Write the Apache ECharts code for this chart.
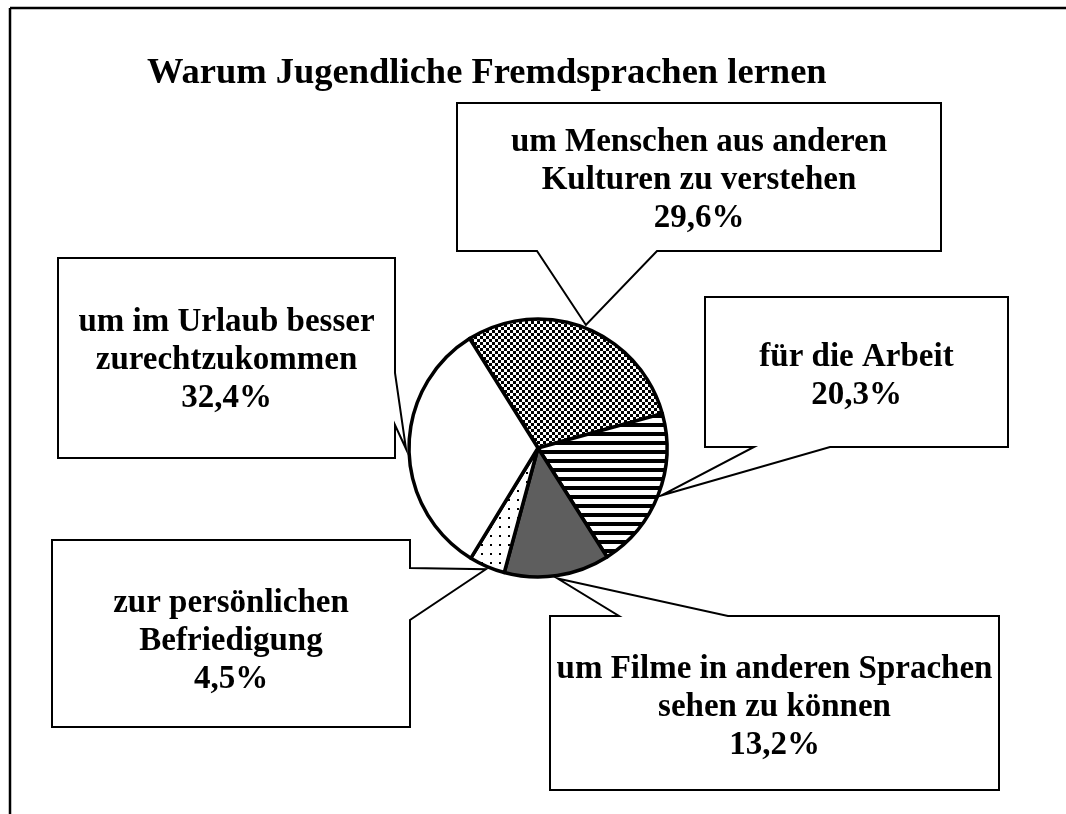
<!DOCTYPE html>
<html><head><meta charset="utf-8">
<script src="https://cdn.jsdelivr.net/npm/echarts@6/dist/echarts.min.js"></script>
<style>html,body{margin:0;padding:0;background:#fff}#c{width:1066px;height:814px}</style>
</head><body><div id="c"></div>
<script>
// ---- data ----
const chartTitle = 'Warum Jugendliche Fremdsprachen lernen';
const categories = [
  'um Menschen aus anderen\nKulturen zu verstehen',
  'für die Arbeit',
  'um Filme in anderen Sprachen\nsehen zu können',
  'zur persönlichen\nBefriedigung',
  'um im Urlaub besser\nzurechtzukommen'
];
const values = [29.6, 20.3, 13.2, 4.5, 32.4];
const valueLabels = ['29,6%', '20,3%', '13,2%', '4,5%', '32,4%'];

// ---- layout / style ----
const PIE = {cx: 538, cy: 448, r: 129, start: 122, tipOff: 3};
const BOXES = [
  {x0: 457, y0: 103, x1: 941, y1: 251, side: 'bottom', b0: 537, b1: 657, dy: 3},
  {x0: 705, y0: 297, x1: 1008, y1: 447, side: 'bottom', b0: 754, b1: 830, dy: 4},
  {x0: 550, y0: 616, x1: 999, y1: 790, side: 'top', b0: 619, b1: 728, dy: 4},
  {x0: 52, y0: 540, x1: 410, y1: 727, side: 'right', b0: 568, b1: 620, dy: 8},
  {x0: 58, y0: 258, x1: 395, y1: 458, side: 'right', b0: 373, b1: 425, dy: 2}
];
const FONT = 'Liberation Serif, Times New Roman, serif';

function makePattern(w, h, draw) {
  const c = document.createElement('canvas');
  c.width = w; c.height = h;
  const g = c.getContext('2d');
  g.fillStyle = '#fff'; g.fillRect(0, 0, w, h);
  g.fillStyle = '#000';
  draw(g);
  return {image: c, repeat: 'repeat'};
}
const checker = makePattern(6, 6, g => { g.fillRect(0, 0, 3, 3); g.fillRect(3, 3, 3, 3); });
const stripes = makePattern(6, 9, g => { g.fillRect(0, 0, 6, 4); });
const dots = makePattern(9, 9, g => { g.fillRect(4, 4, 2, 2); });
const fills = [checker, stripes, '#5e5e5e', dots, '#ffffff'];

// callout tips at slice mid angles (mirrors pie layout)
const total = values.reduce((a, b) => a + b, 0);
let acc = PIE.start;
const tips = values.map(v => {
  const span = v / total * 360;
  const mid = (acc - span / 2) * Math.PI / 180;
  acc -= span;
  const R = PIE.r + PIE.tipOff;
  return [PIE.cx + R * Math.cos(mid), PIE.cy - R * Math.sin(mid)];
});

function calloutPoints(b, tip) {
  const {x0, y0, x1, y1} = b;
  if (b.side === 'bottom') return [[x0, y0], [x1, y0], [x1, y1], [b.b1, y1], tip, [b.b0, y1], [x0, y1]];
  if (b.side === 'top') return [[x0, y0], [b.b0, y0], tip, [b.b1, y0], [x1, y0], [x1, y1], [x0, y1]];
  if (b.side === 'right') return [[x0, y0], [x1, y0], [x1, b.b0], tip, [x1, b.b1], [x1, y1], [x0, y1]];
  return [[x0, y0], [x1, y0], [x1, y1], [x0, y1], [x0, b.b1], tip, [x0, b.b0]];
}

const graphics = [
  {type: 'line', z: 0, shape: {x1: 10, y1: 8, x2: 1066, y2: 8}, style: {stroke: '#000', lineWidth: 2.5}},
  {type: 'line', z: 0, shape: {x1: 10, y1: 8, x2: 10, y2: 814}, style: {stroke: '#000', lineWidth: 2.5}}
];
BOXES.forEach((b, i) => {
  graphics.push({
    type: 'polygon', z: 0,
    shape: {points: calloutPoints(b, tips[i])},
    style: {fill: '#fff', stroke: '#000', lineWidth: 2, lineJoin: 'miter'}
  });
});

const chart = echarts.init(document.getElementById('c'), null, {renderer: 'canvas'});
chart.setOption({
  backgroundColor: '#fff',
  animation: false,
  title: {
    text: chartTitle, left: 142, top: 50,
    textStyle: {fontFamily: FONT, fontWeight: 'bold', fontSize: 36.5, color: '#000'}
  },
  graphic: graphics,
  series: [{
    type: 'pie',
    z: 2,
    center: [PIE.cx, PIE.cy],
    radius: PIE.r,
    startAngle: PIE.start,
    clockwise: true,
    avoidLabelOverlap: false,
    data: values.map((v, i) => ({
      value: v, name: categories[i],
      itemStyle: {color: fills[i]}
    })),
    itemStyle: {borderColor: '#000', borderWidth: 3.5},
    label: {
      show: true,
      formatter: p => categories[p.dataIndex] + '\n' + valueLabels[p.dataIndex],
      fontFamily: FONT, fontWeight: 'bold', fontSize: 33, lineHeight: 38,
      color: '#000', align: 'center'
    },
    labelLine: {show: false},
    labelLayout: p => {
      const b = BOXES[p.dataIndex];
      return {x: (b.x0 + b.x1) / 2, y: (b.y0 + b.y1) / 2 + b.dy, align: 'center', verticalAlign: 'middle'};
    },
    emphasis: {disabled: true}
  }]
});
</script>
</body></html>
